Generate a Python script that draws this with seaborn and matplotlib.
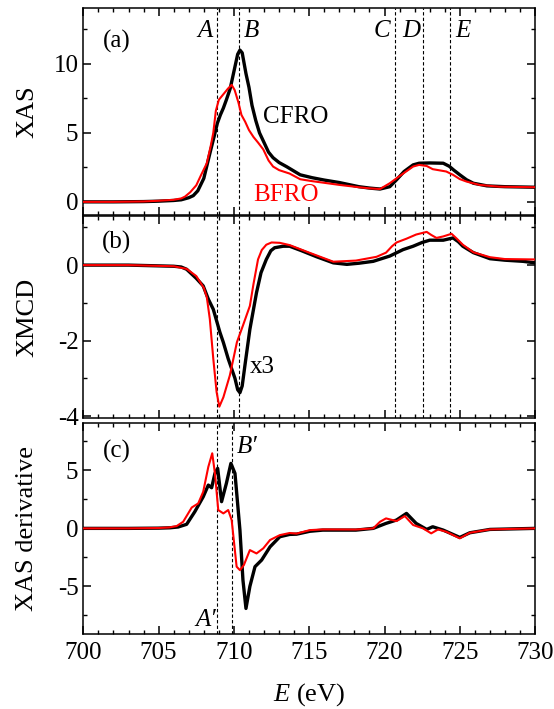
import numpy as np
import pandas as pd
import matplotlib
matplotlib.use("Agg")
import matplotlib.pyplot as plt
from matplotlib.ticker import MultipleLocator
import seaborn as sns

# ---------------- data ----------------
xas_cfro_E = [700, 702, 704, 705, 706, 706.5, 707, 707.3, 707.6, 708.0, 708.4, 708.7, 708.9, 709.1,
              709.3, 709.5, 709.75, 710.05, 710.25, 710.4, 710.55, 710.8, 711.0, 711.2, 711.45, 711.7,
              712.0, 712.3, 712.6, 713.0, 713.5, 714.4, 715.2, 716.0, 717.0, 718.3, 719.0, 719.7,
              720.35, 720.8, 721.3, 721.9, 722.3, 723.0, 723.9, 724.3, 724.6, 725.0, 725.45, 725.9,
              726.8, 728.0, 730]
xas_cfro_V = [0, 0, 0.02, 0.05, 0.1, 0.15, 0.3, 0.45, 0.8, 1.7, 3.5, 4.8, 5.7, 6.3,
              6.8, 7.4, 8.2, 9.7, 10.7, 11.0, 10.8, 9.3, 8.3, 7.0, 5.9, 5.0,
              4.3, 3.6, 3.2, 2.85, 2.55, 1.96, 1.75, 1.58, 1.4, 1.1, 1.0, 0.93,
              1.1, 1.6, 2.2, 2.68, 2.8, 2.82, 2.8, 2.58, 2.3, 1.96, 1.6, 1.35,
              1.16, 1.1, 1.06]

xas_bfro_E = [700, 702, 704, 705, 706, 706.5, 706.75, 707.1, 707.5, 707.8, 708.2, 708.45, 708.63,
              708.8, 709.0, 709.3, 709.6, 709.85, 710.05, 710.3, 710.5, 710.75, 711.0, 711.3, 711.6,
              711.95, 712.3, 712.6, 713.0, 713.7, 714.4, 715.2, 716.0, 717.0, 718.3, 719.0, 719.7,
              720.35, 720.8, 721.3, 721.9, 722.3, 722.8, 723.2, 724.1, 724.55, 725.0, 725.45, 726.3,
              727.6, 730]
xas_bfro_V = [0, 0, 0.03, 0.08, 0.15, 0.25, 0.38, 0.7, 1.2, 1.9, 2.8, 4.0, 5.0,
              6.6, 7.4, 7.8, 8.2, 8.48, 8.1, 7.2, 6.3, 5.8, 5.2, 4.7, 4.3,
              3.8, 3.0, 2.56, 2.3, 2.05, 1.64, 1.5, 1.38, 1.23, 1.06, 0.98, 0.93,
              1.35, 1.71, 2.1, 2.56, 2.68, 2.6, 2.37, 2.2, 1.96, 1.65, 1.47, 1.23,
              1.1, 1.06]

xmcd_cfro_E = [700, 703, 705, 706, 706.5, 706.86, 707.5, 707.96, 708.3, 708.63, 709.07, 709.3, 709.62,
               710.07, 710.25, 710.4, 710.55, 710.73, 711.06, 711.5, 711.8, 712.15, 712.45, 712.7,
               713.27, 713.7, 714.5, 715.5, 716.6, 717.5, 718.3, 719.25, 720.35, 721.23, 721.9,
               722.5, 723.0, 723.9, 724.55, 724.9, 725.2, 725.9, 727.0, 728.0, 729.2, 730]
xmcd_cfro_V = [0.0, 0.0, -0.02, -0.03, -0.05, -0.11, -0.35, -0.55, -0.9, -1.17, -1.78, -2.05, -2.48,
               -3.0, -3.3, -3.38, -3.2, -2.66, -1.7, -0.73, -0.2, 0.15, 0.38, 0.46,
               0.5, 0.5, 0.38, 0.22, 0.06, 0.02, 0.05, 0.1, 0.24, 0.41, 0.5,
               0.6, 0.66, 0.66, 0.72, 0.62, 0.5, 0.33, 0.17, 0.13, 0.1, 0.06]

xmcd_bfro_E = [700, 703, 705, 706, 706.86, 707.5, 708.0, 708.2, 708.4, 708.63, 708.85, 709.03, 709.3,
               709.73, 710.2, 710.6, 711.06, 711.3, 711.6, 711.85, 712.15, 712.5, 713.05, 713.7,
               715.0, 716.6, 718.1, 719.47, 720.1, 720.5, 720.8, 721.46, 722.1, 722.8, 723.1,
               723.45, 723.9, 724.45, 724.8, 725.2, 725.9, 727.0, 728.0, 730]
xmcd_bfro_V = [0.0, 0.0, -0.02, -0.03, -0.1, -0.29, -0.6, -0.85, -1.43, -2.48, -3.36, -3.75, -3.5,
               -2.92, -2.04, -1.6, -1.08, -0.5, 0.15, 0.4, 0.54, 0.6, 0.59, 0.53,
               0.33, 0.09, 0.12, 0.22, 0.33, 0.5, 0.6, 0.7, 0.81, 0.88, 0.8,
               0.72, 0.76, 0.83, 0.7, 0.54, 0.34, 0.21, 0.16, 0.15]

der_cfro_E = [700, 703, 705, 705.75, 706.3, 706.86, 707.4, 707.96, 708.3, 708.52, 708.74, 708.92,
              709.18, 709.5, 709.8, 710.07, 710.4, 710.6, 710.8, 711.06, 711.4, 711.84, 712.4,
              713.05, 713.7, 714.16, 715.04, 715.9, 718.1, 719.25, 720.1, 720.8, 721.46, 722.1,
              722.8, 723.2, 723.9, 725.0, 725.66, 727.0, 730]
der_cfro_V = [0, 0, 0.02, 0.05, 0.12, 0.35, 1.43, 2.72, 3.73, 3.5, 4.74, 5.17,
              2.3, 3.88, 5.6, 4.74, -0.15, -4.46, -6.9, -5.0, -3.3, -2.73, -1.59,
              -0.72, -0.52, -0.5, -0.25, -0.15, -0.15, 0.0, 0.43, 0.72, 1.29, 0.43,
              -0.09, 0.14, -0.15, -0.78, -0.38, -0.09, 0]

der_bfro_E = [700, 703, 705, 705.7, 706.2, 706.63, 707.2, 707.63, 707.96, 708.3, 708.56, 708.74,
              708.96, 709.3, 709.62, 709.85, 710.18, 710.4, 710.66, 711.06, 711.5, 711.95, 712.4,
              713.05, 713.7, 714.16, 715.04, 715.9, 718.1, 719.25, 719.7, 720.1, 720.8, 721.35,
              721.9, 722.56, 723.1, 723.56, 724.1, 725.0, 725.66, 727.0, 730]
der_bfro_V = [0, 0, 0.03, 0.08, 0.2, 0.57, 1.8, 2.15, 3.15, 5.3, 6.47, 4.74,
              1.58, 1.29, 1.58, 0.72, -3.3, -3.6, -3.16, -1.87, -2.16, -1.72, -1.0,
              -0.58, -0.4, -0.45, -0.15, -0.09, -0.1, 0.0, 0.57, 0.86, 0.63, 1.06,
              0.29, 0.0, -0.43, -0.09, -0.29, -0.86, -0.38, -0.09, 0]

ab_lines = [708.9, 710.35]           # A, B
cde_lines = [720.68, 722.56, 724.38]  # C, D, E
c_lines = [708.9, 709.85]            # A', B'

# ---------------- style ----------------
sns.set_theme(style="ticks")
plt.rcParams.update({
    "font.family": ["Liberation Serif", "DejaVu Serif"],
    "mathtext.fontset": "custom",
    "mathtext.rm": "Liberation Serif",
    "mathtext.it": "Liberation Serif:italic",
    "axes.unicode_minus": False,
    "font.size": 18,
    "axes.labelsize": 19,
    "axes.linewidth": 1.1,
    "xtick.direction": "in", "ytick.direction": "in",
    "xtick.top": True, "ytick.right": True,
    "xtick.major.size": 5.5, "ytick.major.size": 5.5,
    "xtick.minor.size": 3, "ytick.minor.size": 3,
    "xtick.major.width": 1.1, "ytick.major.width": 1.1,
    "xtick.minor.width": 1.0, "ytick.minor.width": 1.0,
    "xtick.major.pad": 6,
    "xtick.labelsize": 18, "ytick.labelsize": 18,
    "xtick.color": "black", "ytick.color": "black",
    "axes.edgecolor": "black", "axes.labelcolor": "black", "text.color": "black",
})

fig = plt.figure(figsize=(5.54, 7.09), dpi=100)
L, W = 0.1504, 0.8155
ax_a = fig.add_axes([L, 0.6968, W, 0.2919])
ax_b = fig.add_axes([L, 0.4104, W, 0.2849])
ax_c = fig.add_axes([L, 0.1058, W, 0.2971])

RED = "#ff0000"
dash = dict(color="black", lw=0.8, ls=(0, (3, 2)), zorder=1)

def draw(ax, e1, v1, e2, v2):
    sns.lineplot(x=e1, y=v1, ax=ax, color="black", lw=2.4, estimator=None, sort=False, zorder=3)
    sns.lineplot(x=e2, y=v2, ax=ax, color=RED, lw=1.5, estimator=None, sort=False, zorder=4)

# panel (a)
for x in ab_lines + cde_lines:
    ax_a.axvline(x, **dash)
draw(ax_a, xas_cfro_E, xas_cfro_V, xas_bfro_E, xas_bfro_V)
ax_a.set_ylim(-0.95, 14.05)
ax_a.yaxis.set_major_locator(MultipleLocator(5))
ax_a.yaxis.set_minor_locator(MultipleLocator(2.5))
ax_a.set_ylabel("XAS")
ax_a.text(702.2, 11.6, "(a)", ha="center", va="center")
for lab, x in zip(["A", "B", "C", "D", "E"], [708.08, 711.17, 719.8, 721.8, 725.2]):
    ax_a.text(x, 12.4, lab, ha="center", va="center", style="italic")
ax_a.text(714.08, 6.16, "CFRO", ha="center", va="center", color="black")
ax_a.text(713.45, 0.5, "BFRO", ha="center", va="center", color=RED)

# panel (b)
for x in ab_lines + cde_lines:
    ax_b.axvline(x, **dash)
draw(ax_b, xmcd_cfro_E, xmcd_cfro_V, xmcd_bfro_E, xmcd_bfro_V)
ax_b.set_ylim(-4.05, 1.3)
ax_b.yaxis.set_major_locator(MultipleLocator(2))
ax_b.yaxis.set_minor_locator(MultipleLocator(1))
ax_b.set_ylabel("XMCD")
ax_b.text(702.2, 0.6, "(b)", ha="center", va="center")
ax_b.text(711.9, -2.69, "x3", ha="center", va="center")

# panel (c)
for x in c_lines:
    ax_c.axvline(x, **dash)
draw(ax_c, der_cfro_E, der_cfro_V, der_bfro_E, der_bfro_V)
ax_c.set_ylim(-9.1, 9.05)
ax_c.yaxis.set_major_locator(MultipleLocator(5))
ax_c.yaxis.set_minor_locator(MultipleLocator(2.5))
ax_c.set_ylabel("XAS derivative")
ax_c.text(702.2, 6.6, "(c)", ha="center", va="center")
ax_c.text(710.9, 7.0, "B\u2032", ha="center", va="center", style="italic")
ax_c.text(708.1, -7.9, "A\u2032", ha="center", va="center", style="italic")
ax_c.set_xlabel("$E$ (eV)", labelpad=12)

for ax in (ax_a, ax_b, ax_c):
    ax.set_xlim(700, 730)
    ax.xaxis.set_major_locator(MultipleLocator(5))
    ax.xaxis.set_minor_locator(MultipleLocator(1))
    ax.yaxis.set_label_coords(-0.1, 0.5)
    ax.tick_params(which="both", top=True, right=True, direction="in")
    for s in ax.spines.values():
        s.set_color("black")
for ax in (ax_a, ax_b):
    ax.tick_params(labelbottom=False)
    ax.set_xlabel("")

fig.savefig("out.png", dpi=100)
